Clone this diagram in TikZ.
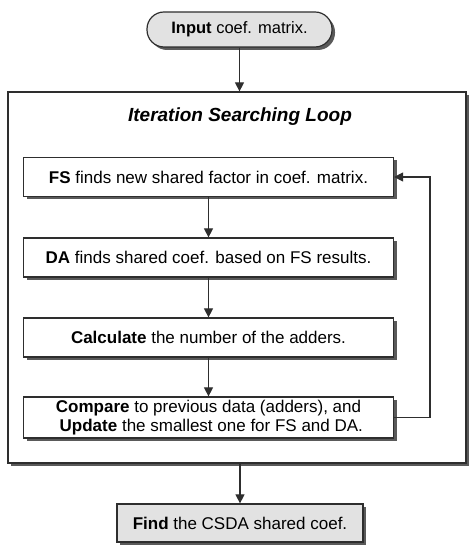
\documentclass[tikz,border=0pt]{standalone}
\usepackage{fontspec}
\setmainfont{Liberation Sans}
\usetikzlibrary{arrows.meta, shadows}

\definecolor{termgray}{HTML}{E2E2E2}
\definecolor{linegray}{HTML}{2E2E2E}
\definecolor{shadowgray}{HTML}{5A5A5A}

\begin{document}
\begin{tikzpicture}[x=1pt, y=1pt,
		font=\fontsize{17}{19}\selectfont,
		boxshadow/.style={drop shadow={shadow xshift=3pt, shadow yshift=-3pt, fill=shadowgray, opacity=1}},
		stepbox/.style={draw=linegray, line width=1.2pt, fill=white, minimum width=370pt, minimum height=39pt, inner sep=2pt, boxshadow},
		terminal/.style={stepbox, fill=termgray, minimum width=185pt, minimum height=35pt},
		flow/.style={draw=linegray, line width=1.1pt, -{Triangle[width=9pt, length=9pt]}}]
			\useasboundingbox (0,0) rectangle (469,545);

			\node [terminal, rounded corners=17pt, font=\fontsize{16.5}{19}\selectfont] (input) at (239.5,515.5) {\textbf{Input} coef. matrix.};
			\node [stepbox, minimum width=458pt, minimum height=371pt] (loop) at (237,267.5) {};
			\node [font=\fontsize{19}{22}\selectfont\bfseries\itshape] (title) at (240,428) {Iteration Searching Loop};

			\node [stepbox] (fs) at (208.5,368) {\textbf{FS} finds new shared factor in coef. matrix.};
			\node [stepbox] (da) at (208.5,287.5) {\textbf{DA} finds shared coef. based on FS results.};
			\node [stepbox] (calc) at (208.5,207.5) {\textbf{Calculate} the number of the adders.};
			\node [stepbox, minimum height=41pt, align=center] (cmp) at (208.5,127.5) {\textbf{Compare} to previous data (adders), and\\ \,\,\textbf{Update} the smallest one for FS and DA.};
			\node [terminal, minimum width=246pt, minimum height=38pt] (find) at (240,22) {\textbf{Find} the CSDA shared coef.};

			\coordinate (back) at (430,127.5);

			\draw [flow] (input) to (input |- loop.north);
			\draw [flow] (fs) to (da);
			\draw [flow] (da) to (calc);
			\draw [flow] (calc) to (cmp);
			\draw [flow] (cmp.east) to (back) to (back |- fs.east) to (fs.east);
			\draw [flow] (find |- loop.south) to (find);
		\end{tikzpicture}
\end{document}
